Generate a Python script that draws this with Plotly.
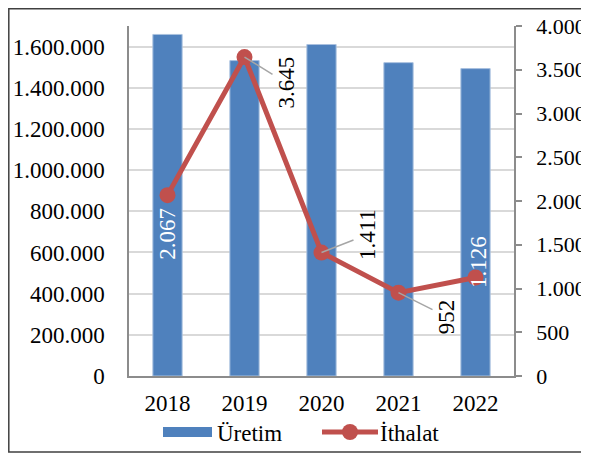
import plotly.graph_objects as go

years = ["2018", "2019", "2020", "2021", "2022"]
uretim = [1659000, 1532000, 1610000, 1522000, 1493000]
ithalat = [2067, 3645, 1411, 952, 1126]
left_ticks = [0, 200000, 400000, 600000, 800000, 1000000, 1200000, 1400000, 1600000]
right_ticks = [0, 500, 1000, 1500, 2000, 2500, 3000, 3500, 4000]

BLUE = "#4F81BD"
RED = "#C0504D"
FONT = "Liberation Serif"
FS = 23

xpos = list(range(len(years)))

def tr(v):
    return f"{v:,}".replace(",", ".")

fig = go.Figure()
fig.add_trace(go.Bar(x=xpos, y=uretim, name="Üretim",
                     marker=dict(color=BLUE, line=dict(color="#A9C1DF", width=1)),
                     width=0.38, yaxis="y", showlegend=False))
fig.add_trace(go.Scatter(x=xpos, y=ithalat, name="İthalat", mode="lines+markers",
                         line=dict(color=RED, width=5), marker=dict(size=16, color=RED),
                         yaxis="y2", showlegend=False))

label_off = [(0, 39), (42, 26), (46, -18), (48, 24), (3, -15)]
label_col = ["white", "black", "black", "black", "white"]
leader = [False, True, True, True, False]
for xi, v, (dx, dy), c, ld in zip(xpos, ithalat, label_off, label_col, leader):
    fig.add_annotation(x=xi, y=v, xref="x", yref="y2", text=tr(v), textangle=-90,
                       showarrow=True, ax=dx, ay=dy, arrowhead=0, arrowwidth=1.5,
                       arrowcolor="#A6A6A6" if ld else "rgba(0,0,0,0)",
                       font=dict(family=FONT, size=FS, color=c))

# page has an 8px body margin, so the figure is 581x447 placed at (8,8)
fig.update_layout(
    width=581, height=447, autosize=False,
    margin=dict(l=121, r=75, t=18, b=79, autoexpand=False),
    paper_bgcolor="white", plot_bgcolor="white",
    separators=",.",
    font=dict(family=FONT, size=FS, color="black"),
    xaxis=dict(range=[-0.5, 4.5], tickvals=xpos, ticktext=years, automargin=False,
               showline=True, linecolor="#8C8C8C", linewidth=1.5,
               ticks="", ticklabelstandoff=6, showgrid=False, zeroline=False),
    yaxis=dict(range=[0, 1700000], tickvals=left_ticks, tickformat=",d", automargin=False,
               showgrid=True, gridcolor="#D9D9D9", gridwidth=1.5,
               showline=True, linecolor="#8C8C8C", linewidth=1.5,
               ticks="", ticklabelstandoff=18, zeroline=False),
    yaxis2=dict(range=[0, 4000], tickvals=right_ticks, tickformat=",d", automargin=False,
                overlaying="y", side="right", showgrid=False,
                showline=True, linecolor="#8C8C8C", linewidth=1.5,
                ticks="outside", ticklen=6, tickcolor="#8C8C8C", tickwidth=1.5,
                ticklabelstandoff=10, tickfont=dict(size=22), zeroline=False),
    showlegend=False,
)

def px(x):
    return (x - 129) / 385

def py(y):
    return (376 - y) / 350

# outer frame (its right edge lies beyond the visible area, as in the reference)
fig.add_shape(type="rect", xref="paper", yref="paper",
              x0=px(8.8), x1=px(600), y0=py(452), y1=py(8.8),
              line=dict(color="#404040", width=1.5), layer="below")

# custom legend
fig.add_shape(type="rect", xref="paper", yref="paper",
              x0=px(163), x1=px(212), y0=py(437), y1=py(427),
              fillcolor=BLUE, line=dict(width=0))
fig.add_annotation(xref="paper", yref="paper", x=px(215), y=py(433),
                   text="Üretim", showarrow=False, xanchor="left", yanchor="middle",
                   font=dict(family=FONT, size=FS, color="black"))
fig.add_shape(type="line", xref="paper", yref="paper",
              x0=px(322), x1=px(378), y0=py(432), y1=py(432),
              line=dict(color=RED, width=5))
fig.add_shape(type="circle", xref="paper", yref="paper",
              x0=px(342), x1=px(358), y0=py(440), y1=py(424),
              fillcolor=RED, line=dict(width=0))
fig.add_annotation(xref="paper", yref="paper", x=px(378), y=py(433),
                   text="İthalat", showarrow=False, xanchor="left", yanchor="middle",
                   font=dict(family=FONT, size=FS, color="black"))

fig.write_html("out.html")
